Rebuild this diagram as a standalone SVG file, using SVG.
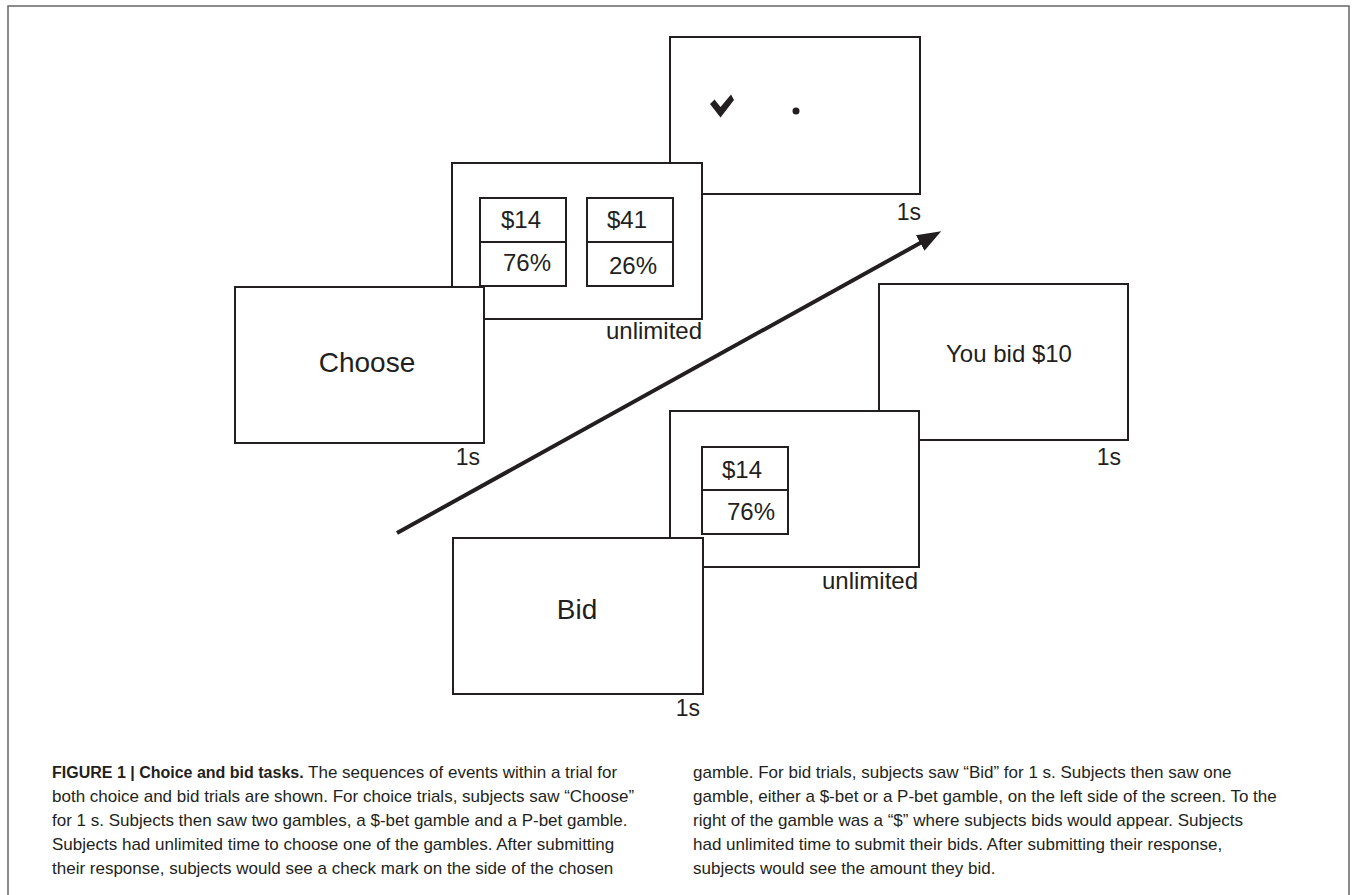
<svg xmlns="http://www.w3.org/2000/svg" width="1354" height="895" viewBox="0 0 1354 895">
<style>
.scr{fill:#fff;stroke:#231f20;stroke-width:2}
.gb{fill:#fff;stroke:#231f20;stroke-width:2}
.t{font-family:"Liberation Sans",Arial,sans-serif;fill:#231f20}
.big{font-size:28px}
.mid{font-size:24px}
.dur{font-size:23px}
.cap{font-family:"Liberation Sans",Arial,sans-serif;font-size:17px;fill:#231f20}
.capb{font-weight:bold;font-size:16px}
</style>
<defs>
<marker id="ah" markerUnits="userSpaceOnUse" markerWidth="24" markerHeight="18" viewBox="0 0 22 16" refX="7" refY="8" orient="auto">
<path d="M0,0 L22,8 L0,16 z" fill="#231f20"/>
</marker>
</defs>
<rect width="1354" height="895" fill="#fff"/>
<path d="M8,895 V6 H1349 V895" fill="none" stroke="#666" stroke-width="1.5"/>

<g id="feedback-choice">
<rect class="scr" x="670" y="37" width="250" height="157"/>
<path d="M710,104 L714.5,99.5 L720.5,107 L731,94.5 L734,100 L720.5,117.5 Z" fill="#231f20"/>
<circle cx="796" cy="111" r="3.5" fill="#231f20"/>
<text class="t dur" x="921" y="220" text-anchor="end">1s</text>
</g>

<g id="choice-gambles">
<rect class="scr" x="452" y="163" width="250" height="156"/>
<rect class="gb" x="480" y="198" width="86" height="88"/>
<line x1="480" y1="242" x2="566" y2="242" stroke="#231f20" stroke-width="2"/>
<rect class="gb" x="587" y="198" width="86" height="88"/>
<line x1="587" y1="242" x2="673" y2="242" stroke="#231f20" stroke-width="2"/>
<text class="t mid" x="501" y="228">$14</text>
<text class="t mid" x="503" y="271">76%</text>
<text class="t mid" x="607" y="228">$41</text>
<text class="t mid" x="609" y="274">26%</text>
<text class="t mid" x="702" y="339" text-anchor="end">unlimited</text>
</g>

<g id="choose-screen">
<rect class="scr" x="235" y="287" width="249" height="156"/>
<text class="t big" x="367" y="372" text-anchor="middle">Choose</text>
<text class="t dur" x="480" y="465" text-anchor="end">1s</text>
</g>

<g id="feedback-bid">
<rect class="scr" x="879" y="284" width="249" height="156"/>
<text class="t mid" x="1009" y="362" text-anchor="middle">You bid $10</text>
<text class="t dur" x="1121" y="465" text-anchor="end">1s</text>
</g>

<g id="bid-gamble">
<rect class="scr" x="670" y="411" width="249" height="156"/>
<rect class="gb" x="702" y="447" width="86" height="87"/>
<line x1="702" y1="490" x2="788" y2="490" stroke="#231f20" stroke-width="2"/>
<text class="t mid" x="722" y="478">$14</text>
<text class="t mid" x="727" y="520">76%</text>
<text class="t mid" x="918" y="589" text-anchor="end">unlimited</text>
</g>

<g id="bid-screen">
<rect class="scr" x="453" y="538" width="250" height="156"/>
<text class="t big" x="577" y="619" text-anchor="middle">Bid</text>
<text class="t dur" x="700" y="716" text-anchor="end">1s</text>
</g>

<g id="connectors">
<line x1="397" y1="533" x2="926.9" y2="239.3" stroke="#231f20" stroke-width="4" marker-end="url(#ah)"/>
</g>

<g id="caption">
<text class="cap" x="52" y="778"><tspan class="capb">FIGURE 1 | Choice and bid tasks.</tspan> The sequences of events within a trial for</text>
<text class="cap" x="52" y="802">both choice and bid trials are shown. For choice trials, subjects saw “Choose”</text>
<text class="cap" x="52" y="826">for 1 s. Subjects then saw two gambles, a $-bet gamble and a P-bet gamble.</text>
<text class="cap" x="52" y="850">Subjects had unlimited time to choose one of the gambles. After submitting</text>
<text class="cap" x="52" y="874">their response, subjects would see a check mark on the side of the chosen</text>
<text class="cap" x="693" y="778">gamble. For bid trials, subjects saw “Bid” for 1 s. Subjects then saw one</text>
<text class="cap" x="693" y="802">gamble, either a $-bet or a P-bet gamble, on the left side of the screen. To the</text>
<text class="cap" x="693" y="826">right of the gamble was a “$” where subjects bids would appear. Subjects</text>
<text class="cap" x="693" y="850">had unlimited time to submit their bids. After submitting their response,</text>
<text class="cap" x="693" y="874">subjects would see the amount they bid.</text>
</g>
</svg>
